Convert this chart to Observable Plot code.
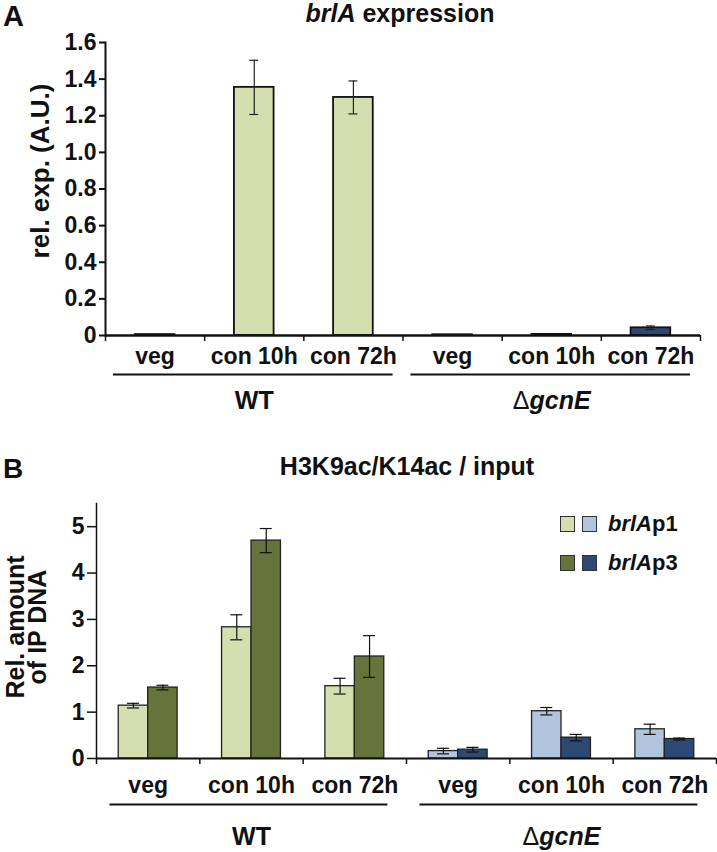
<!DOCTYPE html>
<html><head><meta charset="utf-8">
<script src="https://cdn.jsdelivr.net/npm/d3@7"></script>
<script src="https://cdn.jsdelivr.net/npm/@observablehq/plot@0.6"></script>
<style>
body{margin:0;background:#fff;}
#wrap{position:relative;width:717px;height:852px;font-family:"Liberation Sans",Arial,sans-serif;font-weight:bold;color:#111;overflow:hidden;}
.abs{position:absolute;white-space:nowrap;line-height:1;}
.sw{position:absolute;width:13px;height:14px;border:1px solid #333;}
#svgA{position:absolute;left:0;top:0;}
#svgB{position:absolute;left:0;top:440px;}
</style></head><body>
<div id="wrap">
  <div id="svgA"></div>
  <div id="svgB"></div>
  <div class="abs" style="left:3px;top:2px;font-size:29px;">A</div>
  <div class="abs" style="left:400px;top:1px;font-size:25px;transform:translateX(-50%);"><i>brlA</i> expression</div>
  <div class="abs" style="left:3px;top:455px;font-size:28px;">B</div>
  <div class="abs" style="left:407px;top:454px;font-size:25px;transform:translateX(-50%);">H3K9ac/K14ac / input</div>
  <div id="legend"></div>
</div>
<script>
// ---- data ----
const strains = ["WT", "ΔgcnE"];
const conditions = ["veg", "con 10h", "con 72h"];
// Panel A: brlA expression (rel. exp., A.U.), order WT veg/10h/72h, ΔgcnE veg/10h/72h
const exprA = [0.005, 1.355, 1.30, 0.004, 0.006, 0.042];
const errA  = [0, 0.148, 0.09, 0, 0, 0.01];
const ticksA = [0, 0.2, 0.4, 0.6, 0.8, 1.0, 1.2, 1.4, 1.6];
// Panel B: H3K9ac/K14ac / input
const series = ["brlAp1", "brlAp3"];
const p1B    = [1.14, 2.83, 1.56, 0.16, 1.02, 0.63];
const p1Err  = [0.05, 0.27, 0.17, 0.06, 0.08, 0.11];
const p3B    = [1.53, 4.70, 2.20, 0.19, 0.45, 0.42];
const p3Err  = [0.05, 0.26, 0.45, 0.05, 0.07, 0.02];
const ticksB = [0, 1, 2, 3, 4, 5];
const palette = {
  "WT":    {brlAp1: "#d4deaf", brlAp3: "#66733a"},
  "ΔgcnE": {brlAp1: "#b2c5df", brlAp3: "#2d4971"}
};
const colorA = {"WT": "#d4deaf", "ΔgcnE": "#2d4971"};

// ---- derived tables ----
const cats = [];
strains.forEach((s, si) => conditions.forEach((c, ci) => cats.push({idx: si * 3 + ci, strain: s, cond: c})));
const bounds = d3.range(cats.length + 1).map(i => i - 0.5);
const groups = strains.map((s, si) => ({strain: s, first: si * 3, last: si * 3 + 2, mid: si * 3 + 1}));

const rowsA = cats.map((c, i) => ({...c, v: exprA[i], e: errA[i]}));
const rowsB = [];
cats.forEach((c, i) => {
  rowsB.push({...c, series: "brlAp1", v: p1B[i], e: p1Err[i], off: -1});
  rowsB.push({...c, series: "brlAp3", v: p3B[i], e: p3Err[i], off: 1});
});

const font = '"Liberation Sans", Arial, sans-serif';
const baseStyle = {fontFamily: font, fontWeight: "bold", fontSize: "23px", color: "#111", background: "transparent", overflow: "visible"};

// ---- Panel A ----
const wA = 0.2, capA = 0.045;
const errRowsA = rowsA.filter(d => d.e > 0);
const plotA = Plot.plot({
  width: 717, height: 415,
  marginLeft: 105, marginRight: 17, marginTop: 42, marginBottom: 80,
  x: {domain: [-0.5, 5.5]},
  y: {domain: [0, 1.6]},
  color: {type: "identity"},
  style: baseStyle,
  marks: [
    Plot.rect(rowsA, {x1: d => d.idx - wA, x2: d => d.idx + wA, y1: 0, y2: "v", fill: d => colorA[d.strain], stroke: "#111", strokeWidth: 1.8}),
    Plot.ruleX(errRowsA, {x: "idx", y1: d => d.v - d.e, y2: d => d.v + d.e, stroke: "#222", strokeWidth: 1.2}),
    Plot.ruleY(errRowsA, {x1: d => d.idx - capA, x2: d => d.idx + capA, y: d => d.v + d.e, stroke: "#222", strokeWidth: 1.2}),
    Plot.ruleY(errRowsA, {x1: d => d.idx - capA, x2: d => d.idx + capA, y: d => d.v - d.e, stroke: "#222", strokeWidth: 1.2}),
    Plot.frame({anchor: "left", stroke: "#111", strokeWidth: 2}),
    Plot.ruleY([0], {stroke: "#111", strokeWidth: 2.5}),
    Plot.axisY({ticks: ticksA, tickSize: 6, tickPadding: 3, strokeWidth: 2, tickFormat: d => d === 0 ? "0" : d.toFixed(1), label: null, fontSize: 23}),
    Plot.axisX({ticks: bounds, tickSize: 6, strokeWidth: 1.5, tickFormat: () => "", label: null}),
    Plot.text(rowsA, {x: "idx", y: 0, dy: 21, text: "cond", fontSize: 23, fill: "#111"}),
    Plot.ruleY(groups, {x1: d => d.first - 0.42, x2: d => d.last + 0.4, y: 0, dy: 39, stroke: "#111", strokeWidth: 2}),
    Plot.text(groups, {x: "mid", y: 0, dy: 65, text: "strain", fontSize: 25, fill: "#111"}),
    Plot.text(["rel. exp. (A.U.)"], {frameAnchor: "left", textAnchor: "middle", lineAnchor: "middle", dx: -65, dy: -18, rotate: -90, text: d => d, fontSize: 26, fill: "#111"})
  ]
});

// ---- Panel B ----
const wB = 0.285, capB = 0.058;
const plotB = Plot.plot({
  width: 717, height: 412,
  marginLeft: 96, marginRight: 1, marginTop: 63, marginBottom: 94,
  x: {domain: [-0.5, 5.5]},
  y: {domain: [0, 5.5]},
  color: {type: "identity"},
  style: baseStyle,
  marks: [
    Plot.rect(rowsB, {x1: d => d.off < 0 ? d.idx - wB : d.idx, x2: d => d.off < 0 ? d.idx : d.idx + wB, y1: 0, y2: "v", fill: d => palette[d.strain][d.series], stroke: "#222", strokeWidth: 1.3}),
    Plot.ruleX(rowsB, {x: d => d.idx + d.off * wB / 2, y1: d => d.v - d.e, y2: d => d.v + d.e, stroke: "#111", strokeWidth: 1.2}),
    Plot.ruleY(rowsB, {x1: d => d.idx + d.off * wB / 2 - capB, x2: d => d.idx + d.off * wB / 2 + capB, y: d => d.v + d.e, stroke: "#111", strokeWidth: 1.2}),
    Plot.ruleY(rowsB, {x1: d => d.idx + d.off * wB / 2 - capB, x2: d => d.idx + d.off * wB / 2 + capB, y: d => d.v - d.e, stroke: "#111", strokeWidth: 1.2}),
    Plot.frame({anchor: "left", stroke: "#111", strokeWidth: 1.5}),
    Plot.ruleY([0], {stroke: "#111", strokeWidth: 2}),
    Plot.axisY({ticks: ticksB, tickSize: 9, tickPadding: 3, strokeWidth: 1.5, tickFormat: d => String(d), label: null, fontSize: 23}),
    Plot.axisX({ticks: bounds, tickSize: 6, strokeWidth: 1.5, tickFormat: () => "", label: null}),
    Plot.text(cats, {x: "idx", y: 0, dy: 27, text: "cond", fontSize: 23, fill: "#111"}),
    Plot.ruleY(groups, {x1: d => d.first - 0.37, x2: d => d.last + 0.32, y: 0, dy: 46, stroke: "#111", strokeWidth: 2}),
    Plot.text(groups, {x: "mid", y: 0, dy: 78, text: "strain", fontSize: 25, fill: "#111"}),
    Plot.text(["Rel. amount\nof IP DNA"], {frameAnchor: "left", textAnchor: "middle", lineAnchor: "middle", dx: -69, dy: -4, rotate: -90, text: d => d, fontSize: 25, lineHeight: 0.88, fill: "#111"})
  ]
});

// italic gene names inside SVG text
function italicize(svg) {
  svg.querySelectorAll("text").forEach(t => {
    if (t.textContent === "ΔgcnE") {
      t.textContent = "";
      const d = document.createElementNS("http://www.w3.org/2000/svg", "tspan");
      d.setAttribute("font-weight", "normal");
      d.textContent = "Δ";
      const ts = document.createElementNS("http://www.w3.org/2000/svg", "tspan");
      ts.setAttribute("font-style", "italic");
      ts.textContent = "gcnE";
      t.appendChild(d);
      t.appendChild(ts);
    }
  });
}
italicize(plotA); italicize(plotB);
document.getElementById("svgA").appendChild(plotA);
document.getElementById("svgB").appendChild(plotB);

// legend (HTML)
const legend = document.getElementById("legend");
series.forEach((s, i) => {
  const top = [516, 555][i];
  strains.forEach((st, j) => {
    const sw = document.createElement("div");
    sw.className = "sw";
    sw.style.left = (560 + j * 22) + "px";
    sw.style.top = top + "px";
    sw.style.background = palette[st][s];
    legend.appendChild(sw);
  });
  const lab = document.createElement("div");
  lab.className = "abs";
  lab.style.left = "608px";
  lab.style.top = (top - 3) + "px";
  lab.style.fontSize = "22px";
  lab.innerHTML = "<i>brlA</i>" + s.slice(4);
  legend.appendChild(lab);
});
</script>
</body></html>
